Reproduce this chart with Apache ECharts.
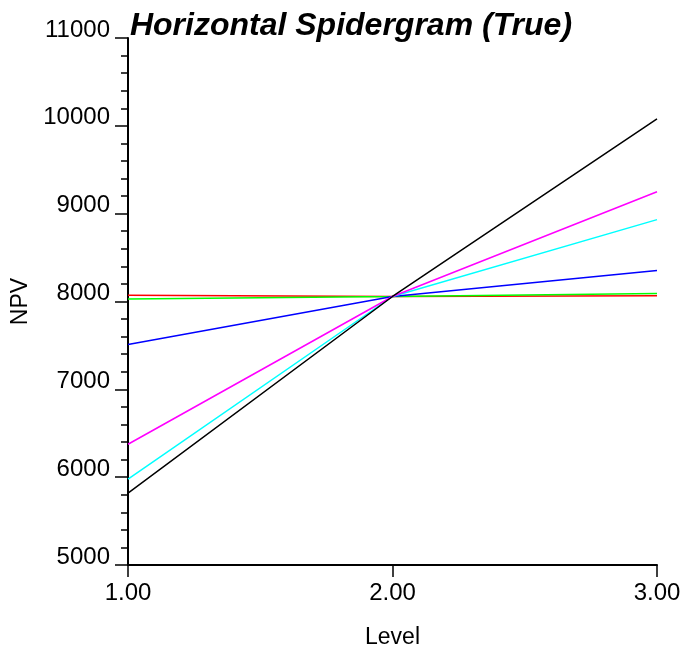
<!DOCTYPE html>
<html>
<head>
<meta charset="utf-8">
<script src="https://cdn.jsdelivr.net/npm/echarts@6/dist/echarts.min.js"></script>
<style>
  html, body { margin: 0; padding: 0; background: #fff; }
  #chart { width: 686px; height: 654px; }
</style>
</head>
<body>
<div id="chart"></div>
<script>
const levels = [1, 2, 3];
const blackLine = [5818, 8057, 10080];
const magentaLine = [6375, 8057, 9250];
const cyanLine = [5977, 8057, 8932];
const blueLine = [7511, 8057, 8352];
const redLine = [8072, 8057, 8065];
const greenLine = [8028, 8057, 8091];

const seriesDefs = [
  { name: "red", color: "#ff0000", values: redLine },
  { name: "green", color: "#00ff00", values: greenLine },
  { name: "blue", color: "#0000ff", values: blueLine },
  { name: "cyan", color: "#00ffff", values: cyanLine },
  { name: "magenta", color: "#ff00ff", values: magentaLine },
  { name: "black", color: "#000000", values: blackLine },
];

const font = "'Liberation Sans', Arial, sans-serif";
const chart = echarts.init(document.getElementById("chart"));

chart.setOption({
  animation: false,
  backgroundColor: "#fff",
  title: {
    text: "Horizontal Spidergram (True)",
    left: 346,
    top: 5,
    textAlign: "center",
    textStyle: { fontFamily: font, fontSize: 32, fontWeight: "bold", fontStyle: "italic", color: "#000" },
  },
  grid: { left: 128, right: 29, top: 38, bottom: 88 },
  xAxis: {
    type: "value",
    min: 1,
    max: 3,
    interval: 1,
    name: "Level",
    nameLocation: "middle",
    nameGap: 61,
    nameTextStyle: { fontFamily: font, fontSize: 23, color: "#000" },
    axisLine: { lineStyle: { color: "#000", width: 2 } },
    axisTick: { inside: false, length: 12, lineStyle: { color: "#000", width: 1.5 } },
    axisLabel: { fontFamily: font, fontSize: 24, color: "#000", margin: 16, formatter: (v) => v.toFixed(2) },
    splitLine: { show: false },
  },
  yAxis: {
    type: "value",
    min: 5000,
    max: 11000,
    interval: 1000,
    name: "NPV",
    nameLocation: "middle",
    nameGap: 91,
    nameRotate: 90,
    nameTextStyle: { fontFamily: font, fontSize: 23, color: "#000" },
    axisLine: { lineStyle: { color: "#000", width: 2 } },
    axisTick: { inside: false, length: 13, lineStyle: { color: "#000", width: 1.5 } },
    minorTick: { show: true, splitNumber: 5, length: 7, lineStyle: { color: "#000", width: 1.5 } },
    axisLabel: {
      fontFamily: font, fontSize: 24, color: "#000", margin: 18,
      verticalAlign: "bottom", lineHeight: 16,
      formatter: (v) => String(v),
    },
    splitLine: { show: false },
  },
  series: seriesDefs.map((s) => ({
    name: s.name,
    type: "line",
    showSymbol: false,
    symbol: "none",
    lineStyle: { color: s.color, width: 1.5 },
    data: levels.map((x, i) => [x, s.values[i]]),
  })),
});
</script>
</body>
</html>
